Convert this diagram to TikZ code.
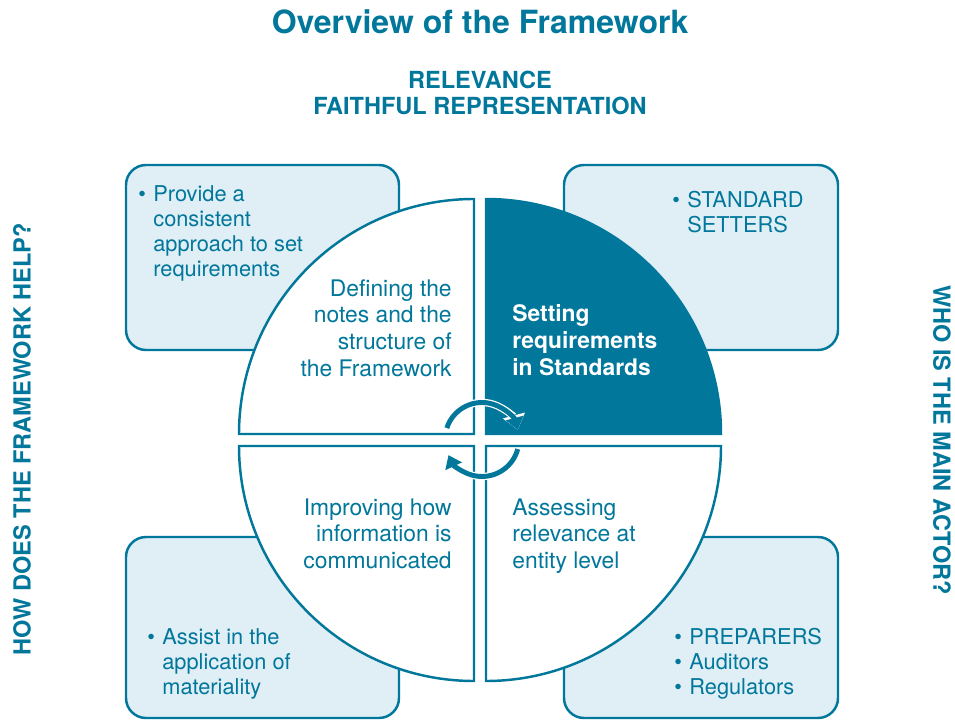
\documentclass[tikz,border=0pt]{standalone}
\usepackage{fontspec}
\setmainfont{TeX Gyre Heros}
\usepackage{tikz}
\usetikzlibrary{arrows.meta, calc, positioning}
\definecolor{ifrsteal}{RGB}{0,119,155}
\definecolor{ifrspale}{RGB}{224,238,245}
\tikzstyle{helpbox} = [rounded corners=0.4cm, draw=ifrsteal, fill=ifrspale, line width=1.4pt]
\tikzstyle{quarter} = [draw=ifrsteal, fill=white, line width=1.4pt]
\tikzstyle{quarterdark} = [draw=ifrsteal, fill=ifrsteal, line width=1.4pt]
\tikzstyle{heading} = [text=ifrsteal, font=\bfseries\fontsize{18.2}{21}\selectfont]
\tikzstyle{caps} = [text=ifrsteal, font=\bfseries\fontsize{13.4}{14.7}\selectfont, align=center]
\tikzstyle{stage} = [text=ifrsteal, font=\fontsize{13}{15.3}\selectfont, inner sep=0pt]
\tikzstyle{bullets} = [text=ifrsteal, font=\fontsize{12.4}{14.2}\selectfont, inner sep=0pt, anchor=north west]
\tikzstyle{cyclearrow} = [draw=ifrsteal, line width=2.8pt, -{Triangle[length=7pt,width=10pt]}, preaction={draw=white, line width=4.2pt, -{Triangle[length=8.5pt,width=12.5pt]}}]

\begin{document}
\begin{tikzpicture}[x=0.02cm, y=0.02cm]
    \useasboundingbox (0,0) rectangle (955,720);
    % boxes behind the circle
    \draw[helpbox] (126,370) rectangle (399,555);
    \draw[helpbox] (564,370) rectangle (838,555);
    \draw[helpbox] (126,2) rectangle (399,183);
    \draw[helpbox] (564,2) rectangle (838,183);
    % the four quarters
    \filldraw[quarter] (474,286) -- (239,286) arc[start angle=180, end angle=90, radius=235] -- cycle;
    \filldraw[quarterdark] (486,286) -- (486,521) arc[start angle=90, end angle=0, radius=235] -- cycle;
    \filldraw[quarter] (474,274) -- (474,39) arc[start angle=270, end angle=180, radius=235] -- cycle;
    \filldraw[quarter] (486,274) -- (721,274) arc[start angle=0, end angle=-90, radius=235] -- cycle;
    % cycle arrows
    \coordinate (hub) at (482,280.5);
    \draw[cyclearrow] ($(hub)+(162:37)$) arc[start angle=162, end angle=15, radius=37];
    \draw[cyclearrow] ($(hub)+(-15:37)$) arc[start angle=-15, end angle=-155, radius=37];
    % headings
    \node (title) [heading] at (480,698) {Overview of the Framework};
    \node (qualities) [caps] at (480,627) {RELEVANCE\\FAITHFUL REPRESENTATION};
    \node (howhelp) [caps, rotate=90] at (22,281) {HOW DOES THE FRAMEWORK HELP?};
    \node (actor) [caps, rotate=-90] at (942,280) {WHO IS THE MAIN ACTOR?};
    % stages
    \node (defining) [stage, anchor=north east, align=right] at (452,441) {Defining the\\notes and the\\structure of\\the Framework};
    \node (setting) [stage, anchor=north west, align=left, text=white, font=\bfseries\fontsize{13}{15.3}\selectfont] at (512,416) {Setting\\requirements\\in Standards};
    \node (improving) [stage, anchor=north east, align=right] at (452,222) {Improving how\\information is\\communicated};
    \node (assessing) [stage, anchor=north west, align=left] at (512,222) {Assessing\\relevance at\\entity level};
    % box texts
    \node (consistent) [bullets] at (138,536) {\begin{tabular}{@{}l@{\hspace{4.2pt}}l@{}}\textbullet & Provide a\\ & consistent\\ & approach to set\\ & requirements\end{tabular}};
    \node (setters) [bullets] at (672,530) {\begin{tabular}{@{}l@{\hspace{4.2pt}}l@{}}\textbullet & STANDARD\\ & SETTERS\end{tabular}};
    \node (materiality) [bullets] at (147,93) {\begin{tabular}{@{}l@{\hspace{4.2pt}}l@{}}\textbullet & Assist in the\\ & application of\\ & materiality\end{tabular}};
    \node (preparers) [bullets] at (674,93) {\begin{tabular}{@{}l@{\hspace{4.2pt}}l@{}}\textbullet & PREPARERS\\\textbullet & Auditors\\\textbullet & Regulators\end{tabular}};
\end{tikzpicture}
\end{document}
